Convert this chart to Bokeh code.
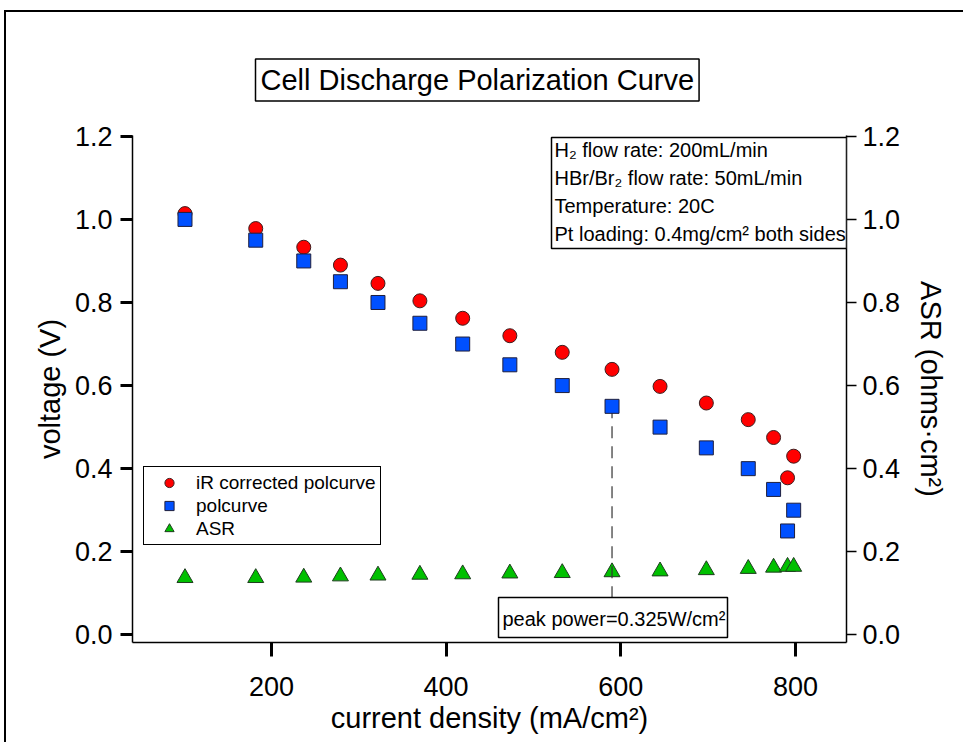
import math
from bokeh.plotting import figure
from bokeh.models import (Range1d, LinearAxis, FixedTicker, PrintfTickFormatter,
                          Label, BoxAnnotation, Legend, LegendItem, ColumnDataSource)
from bokeh.embed import file_html
from bokeh.resources import INLINE

# ---------------- data ----------------
current_density = [101, 182, 237, 279, 322, 370, 419, 473, 533, 590, 645, 698, 746, 775, 791, 798]
ir_corrected = [1.014, 0.978, 0.933, 0.890, 0.846, 0.804, 0.762, 0.720, 0.680, 0.639,
                0.598, 0.558, 0.518, 0.475, 0.378, 0.430]
polcurve = [1.00, 0.95, 0.90, 0.85, 0.80, 0.75, 0.70, 0.65, 0.60, 0.55,
            0.50, 0.45, 0.40, 0.35, 0.25, 0.30]
asr = [0.137, 0.137, 0.138, 0.141, 0.143, 0.145, 0.146, 0.148, 0.149, 0.151,
       0.153, 0.156, 0.159, 0.162, 0.164, 0.164]
y_ticks = [0.0, 0.2, 0.4, 0.6, 0.8, 1.0, 1.2]
x_ticks = [200, 400, 600, 800]
series_names = ["iR corrected polcurve", "polcurve", "ASR"]
title_text = "Cell Discharge Polarization Curve"
condition_lines = ["H\u2082 flow rate: 200mL/min",
                   "HBr/Br\u2082 flow rate: 50mL/min",
                   "Temperature: 20C",
                   "Pt loading: 0.4mg/cm\u00b2 both sides"]
peak_text = "peak power=0.325W/cm\u00b2"
x_title = "current density (mA/cm\u00b2)"
y_title = "voltage (V)"
y2_title = "ASR (ohms\u00b7cm\u00b2)"

# ---------------- layout (page pixels) ----------------
OX, OY = 6, 12                     # canvas offset inside the page
FL, FR, FT, FB = 132, 846, 135, 642  # frame edges on the page
W, H = 965 - OX, 744 - OY
X0, X1 = 40.9, 858.5
Y0, Y1 = -0.0185, 1.202
SX = (FR - FL) / (X1 - X0)
SY = (FB - FT) / (Y1 - Y0)


def dx(px):
    return X0 + (px - FL) / SX


def dy(py):
    return Y1 - (py - FT) / SY


FONT = "Liberation Sans"

p = figure(width=W, height=H, x_range=Range1d(X0, X1), y_range=Range1d(Y0, Y1),
           output_backend="svg", toolbar_location=None,
           x_axis_location=None, y_axis_location=None,
           min_border_left=FL - OX, min_border_right=W - (FR - OX),
           min_border_top=FT - OY, min_border_bottom=H - (FB - OY))
p.outline_line_color = None
p.background_fill_color = "white"
p.border_fill_color = "white"
p.grid.visible = False
p.styles = {"margin-left": "4px", "margin-top": "10px",
            "border-left": "2px solid black", "border-top": "2px solid black"}

# title in a box
p.title.text = title_text
p.title.align = "left"
p.title.offset = 123
p.title.standoff = 69
p.title.text_font = FONT
p.title.text_font_size = "29px"
p.title.text_font_style = "normal"
p.title.text_color = "black"
p.title.border_line_color = "black"
p.title.border_line_width = 1.5
p.title.background_fill_color = "white"
p.title.padding = 5


def style_axis(ax, tick_w, tick_out, standoff):
    ax.axis_line_width = 1.5
    ax.axis_line_color = "black"
    ax.major_tick_line_width = tick_w
    ax.major_tick_line_color = "black"
    ax.major_tick_out = tick_out
    ax.major_tick_in = 0
    ax.minor_tick_out = 0
    ax.minor_tick_in = 0
    ax.major_label_text_font = FONT
    ax.major_label_text_font_size = "27px"
    ax.major_label_text_color = "black"
    ax.major_label_standoff = standoff
    ax.axis_label_text_font = FONT
    ax.axis_label_text_font_style = "normal"
    ax.axis_label_text_font_size = "29px"
    ax.axis_label_text_color = "black"


xaxis = LinearAxis(ticker=FixedTicker(ticks=x_ticks), axis_label=x_title)
style_axis(xaxis, 3, 14, 20)
xaxis.axis_label_standoff = 3
p.add_layout(xaxis, "below")

yaxis = LinearAxis(ticker=FixedTicker(ticks=y_ticks), formatter=PrintfTickFormatter(format="%.1f"),
                   axis_label=y_title)
style_axis(yaxis, 3, 12, 8)
yaxis.axis_label_standoff = 6
p.add_layout(yaxis, "left")

yaxis2 = LinearAxis(ticker=FixedTicker(ticks=y_ticks), formatter=PrintfTickFormatter(format="%.1f"),
                    axis_label=y2_title)
style_axis(yaxis2, 1.5, 10, 6)
yaxis2.axis_label_standoff = 12
p.add_layout(yaxis2, "right")

# ---------------- data marks ----------------
src = ColumnDataSource(dict(x=current_density, ir=ir_corrected, v=polcurve, asr=asr))

r_asr = p.scatter("x", "asr", source=src, marker="triangle", size=16,
                  fill_color="#00C000", line_color="#1f3d1f", line_width=1)

power = [c * v for c, v in zip(current_density, polcurve)]
ip = power.index(max(power))
p.segment(x0=[current_density[ip]], y0=[polcurve[ip]], x1=[current_density[ip]], y1=[dy(597)],
          line_color="#333333", line_width=1.2, line_dash="12 8")

r_ir = p.scatter("x", "ir", source=src, marker="circle", size=14,
                 fill_color="#FF0000", line_color="#3d1f1f", line_width=1)
r_pol = p.scatter("x", "v", source=src, marker="square", size=14,
                  fill_color="#0050FF", line_color="#1f1f3d", line_width=1)

# ---------------- legend ----------------
legend = Legend(items=[LegendItem(label=series_names[0], renderers=[r_ir]),
                       LegendItem(label=series_names[1], renderers=[r_pol]),
                       LegendItem(label=series_names[2], renderers=[r_asr])],
                location=(143 - FL, FB - 545))
legend.border_line_color = "black"
legend.border_line_width = 1.5
legend.border_line_alpha = 1
legend.background_fill_color = "white"
legend.background_fill_alpha = 1
legend.padding = 4
legend.margin = 0
legend.spacing = 0
legend.glyph_width = 42
legend.glyph_height = 23
legend.label_height = 23
legend.label_standoff = 6
legend.label_text_font = FONT
legend.label_text_font_size = "19px"
legend.label_text_color = "black"
p.add_layout(legend)

# ---------------- annotations ----------------
p.add_layout(BoxAnnotation(left=dx(551), right=dx(846), top=dy(137), bottom=dy(248),
                           fill_color="white", fill_alpha=1, line_color="black",
                           line_alpha=1, line_width=1.5))
for txt, py in zip(condition_lines, [149, 177, 205, 233]):
    p.add_layout(Label(x=dx(554), y=dy(py), text=txt, text_align="left",
                       text_baseline="middle", text_font=FONT, text_font_size="20px",
                       text_color="black"))

p.add_layout(BoxAnnotation(left=dx(498), right=dx(727), top=dy(597), bottom=dy(637),
                           fill_color="white", fill_alpha=1, line_color="black",
                           line_alpha=1, line_width=1.5))
p.add_layout(Label(x=dx(502), y=dy(618), text=peak_text, text_align="left",
                   text_baseline="middle", text_font=FONT, text_font_size="20px",
                   text_color="black"))

open("out.html", "w").write(file_html(p, INLINE))
